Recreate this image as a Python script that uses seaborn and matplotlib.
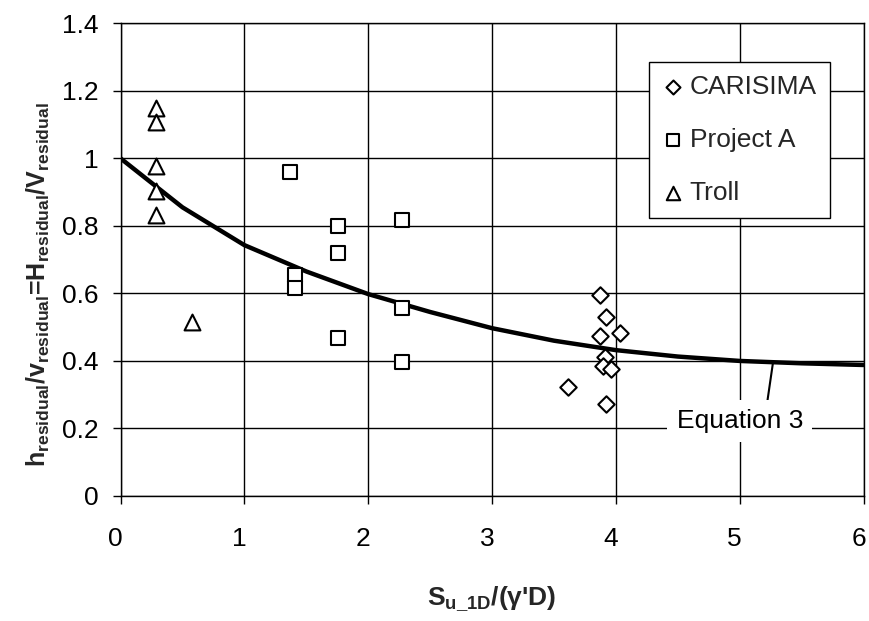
import pandas as pd
import seaborn as sns
import matplotlib.pyplot as plt
import matplotlib.transforms as mtransforms

# data
carisima_x = [3.87, 3.92, 3.87, 4.03, 3.91, 3.90, 3.96, 3.61, 3.92]
carisima_y = [0.595, 0.529, 0.474, 0.484, 0.411, 0.386, 0.375, 0.322, 0.272]

project_x = [1.37, 1.41, 1.41, 1.76, 1.76, 1.76, 2.27, 2.27, 2.27]
project_y = [0.961, 0.655, 0.615, 0.80, 0.719, 0.467, 0.816, 0.558, 0.396]

troll_x = [0.29, 0.29, 0.29, 0.29, 0.29, 0.58]
troll_y = [1.148, 1.108, 0.977, 0.904, 0.832, 0.516]

eq_x = [0, 0.5, 1, 1.5, 2, 2.5, 3, 3.5, 4, 4.5, 5, 5.5, 6]
eq_y = [1.0, 0.855, 0.743, 0.665, 0.598, 0.545, 0.497, 0.46, 0.432, 0.413, 0.40, 0.393, 0.388]

sns.set_theme(style="white")
plt.rcParams['font.family'] = ['Liberation Sans', 'DejaVu Sans']
plt.rcParams['mathtext.fontset'] = 'custom'
plt.rcParams['mathtext.rm'] = 'Liberation Sans'
plt.rcParams['mathtext.bf'] = 'Liberation Sans:bold'
plt.rcParams['mathtext.it'] = 'Liberation Sans:italic'

fig, ax = plt.subplots(figsize=(8.69, 6.21), dpi=100)
fig.subplots_adjust(left=0.1387, right=0.9937, bottom=0.2013, top=0.9625)

# the equation curve
eq = pd.DataFrame({'x': eq_x, 'y': eq_y})
sns.lineplot(x='x', y='y', data=eq, color='black', linewidth=3.2, ax=ax, zorder=3)

# scatter series
sns.scatterplot(x=carisima_x, y=carisima_y, marker='D', s=70, facecolor='white',
                edgecolor='black', linewidth=1.5, label='CARISIMA', ax=ax, zorder=4)
sns.scatterplot(x=project_x, y=project_y, marker='s', s=90, facecolor='white',
                edgecolor='black', linewidth=1.5, label='Project A', ax=ax, zorder=4)
sns.scatterplot(x=troll_x, y=troll_y, marker='^', s=130, facecolor='white',
                edgecolor='black', linewidth=1.5, label='Troll', ax=ax, zorder=4)

ax.set_xlim(0, 6)
ax.set_ylim(0, 1.4)
ax.set_xticks([0, 1, 2, 3, 4, 5, 6])
ax.set_yticks([0, 0.2, 0.4, 0.6, 0.8, 1, 1.2, 1.4])
ax.set_yticklabels(['0', '0.2', '0.4', '0.6', '0.8', '1', '1.2', '1.4'])
ax.grid(True, color='black', linewidth=1.0)
ax.set_axisbelow(True)
for s in ax.spines.values():
    s.set_color('black')
    s.set_linewidth(1.0)
ax.tick_params(axis='both', direction='out', length=6, width=1, color='black',
               labelsize=19, labelcolor='black')
ax.tick_params(axis='x', pad=16, bottom=True)
ax.tick_params(axis='y', pad=10, left=True)

# x tick labels sit a little left of their ticks in the original
shift = mtransforms.ScaledTranslation(-5 / 100, 0, fig.dpi_scale_trans)
for lab in ax.get_xticklabels():
    lab.set_transform(lab.get_transform() + shift)

ax.set_xlabel(r"S$_{\mathbf{u\_1D}}$/(γ'D)", fontsize=19, fontweight='bold', labelpad=24)
ax.set_ylabel(r"h$_{\mathbf{residual}}$/v$_{\mathbf{residual}}$=H$_{\mathbf{residual}}$/V$_{\mathbf{residual}}$",
              fontsize=18, fontweight='bold')
ax.yaxis.set_label_coords(-0.092, 0.447)

# annotation for the curve
ax.annotate('Equation 3', xy=(5.27, 0.398), xytext=(5.0, 0.222),
            fontsize=19, ha='center', va='center', color='black',
            bbox=dict(boxstyle='square,pad=0.35', fc='white', ec='none'),
            arrowprops=dict(arrowstyle='-', color='black', lw=1.5,
                            relpos=(0.71, 1.0), shrinkA=0, shrinkB=0),
            zorder=5)

leg = ax.legend(loc='upper right', bbox_to_anchor=(0.955, 0.918), fontsize=19,
                frameon=True, fancybox=False, edgecolor='black', framealpha=1,
                labelspacing=1.1, handletextpad=0.25, handlelength=0.8,
                borderpad=0.5, borderaxespad=0, markerscale=0.85)
leg.get_frame().set_linewidth(1.0)

plt.savefig('out.png', dpi=100)
